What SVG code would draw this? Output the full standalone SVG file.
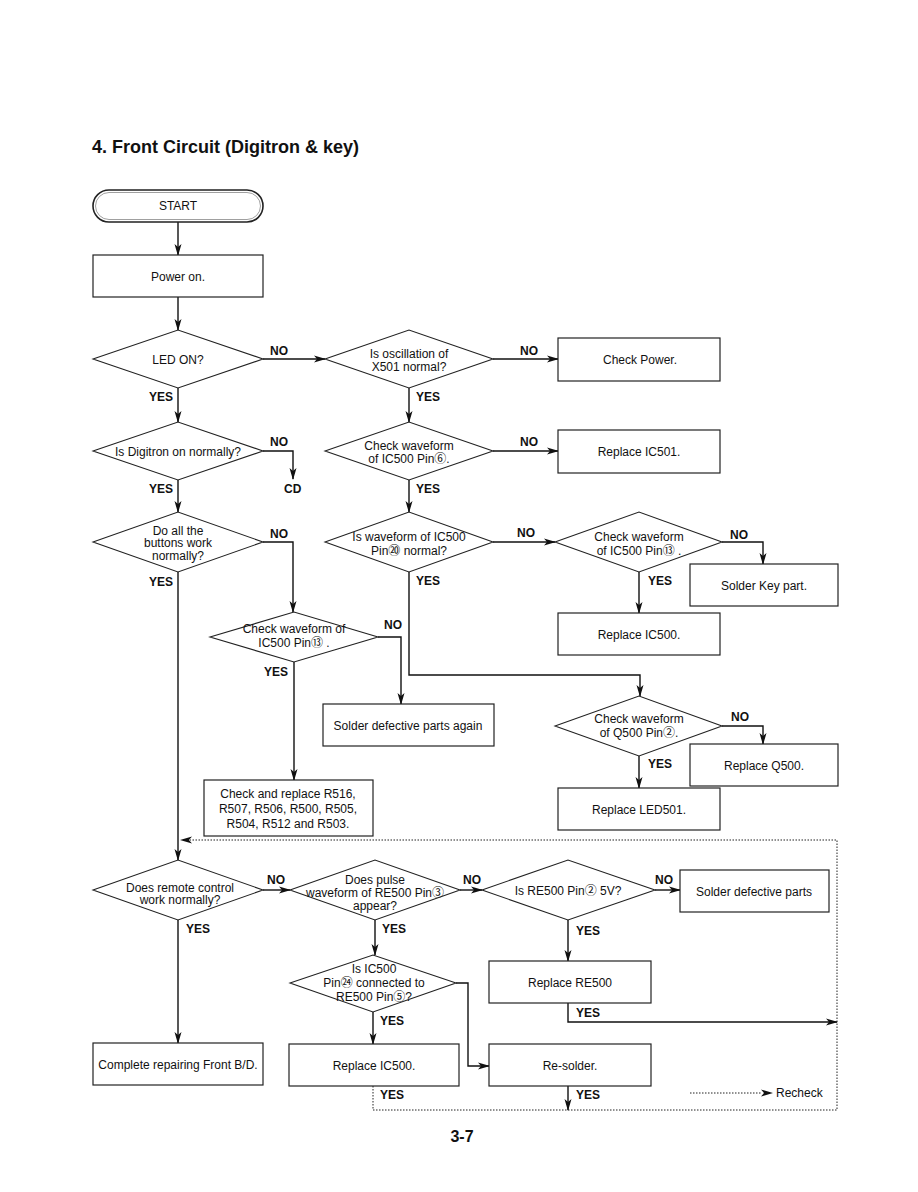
<svg xmlns="http://www.w3.org/2000/svg" width="918" height="1192" viewBox="0 0 918 1192">
<defs>
<marker id="ah" markerWidth="12" markerHeight="8" refX="11" refY="4" orient="auto" markerUnits="userSpaceOnUse">
<path d="M0,0.5 L12,4 L0,7.5 L3,4 z" fill="#111"/>
</marker>
<style>
.bx{fill:#fff;stroke:#222;stroke-width:1.2}
.dm{fill:#fff;stroke:#222;stroke-width:1.1}
.t{font-family:"Liberation Sans",Arial,"Noto Sans CJK JP",sans-serif;font-size:12px;fill:#111;text-anchor:middle}
.l{font-family:"Liberation Sans",Arial,sans-serif;font-size:12px;font-weight:bold;fill:#111}
.ca{fill:none;stroke:#111;stroke-width:1.4;marker-end:url(#ah)}
.dt{fill:none;stroke:#222;stroke-width:1;stroke-dasharray:1.5,1.5}
</style>
</defs>
<rect width="918" height="1192" fill="#fff"/>
<text x="92" y="153" font-family="Liberation Sans,Arial,sans-serif" font-size="18" font-weight="bold" fill="#111">4. Front Circuit (Digitron &amp; key)</text>

<g id="connectors">
<path class="ca" d="M178,222 V255"/>
<path class="ca" d="M178,297 V330"/>
<path class="ca" d="M263,359 H325"/>
<path class="ca" d="M493,359 H558"/>
<path class="ca" d="M178,388 V422"/>
<path class="ca" d="M409,388 V422"/>
<path class="ca" d="M263,451 H293 V479"/>
<path class="ca" d="M493,451 H558"/>
<path class="ca" d="M178,480 V512"/>
<path class="ca" d="M409,480 V512"/>
<path class="ca" d="M263,542 H293 V612"/>
<path class="ca" d="M493,542 H555"/>
<path class="ca" d="M722,542 H763 V564"/>
<path class="ca" d="M639,572 V613"/>
<path class="ca" d="M409,572 V675 H640 V696"/>
<path class="ca" d="M378,637 H401 V704"/>
<path class="ca" d="M294,662 V780"/>
<path class="ca" d="M722,726 H763 V744"/>
<path class="ca" d="M639,756 V788"/>
<path class="ca" d="M178,572 V860"/>
<path class="ca" d="M263,890 H290"/>
<path class="ca" d="M460,890 H482"/>
<path class="ca" d="M655,890 H680"/>
<path class="ca" d="M178,920 V1043"/>
<path class="ca" d="M375,920 V955"/>
<path class="ca" d="M568,920 V961"/>
<path class="ca" d="M456,983 H468 V1066 H489"/>
<path class="ca" d="M373,1012 V1044"/>
<path class="ca" d="M568,1003 V1022 H837"/>
<path class="ca" d="M568,1086 V1110"/>
<path class="dt" d="M373,1086 V1110 H837 V840 H190"/>
<path d="M180,840 L192,836.5 L189,840 L192,843.5 z" fill="#111"/>
<path class="dt" d="M690,1093 H762"/>
<path d="M773,1093 L761,1089.5 L764,1093 L761,1096.5 z" fill="#111"/>
<text class="l" x="149" y="401">YES</text>
<text class="l" x="270" y="355">NO</text>
<text class="l" x="416" y="401">YES</text>
<text class="l" x="520" y="355">NO</text>
<text class="l" x="149" y="493">YES</text>
<text class="l" x="270" y="446">NO</text>
<text class="l" x="284" y="493">CD</text>
<text class="l" x="416" y="493">YES</text>
<text class="l" x="520" y="446">NO</text>
<text class="l" x="149" y="586">YES</text>
<text class="l" x="270" y="538">NO</text>
<text class="l" x="416" y="585">YES</text>
<text class="l" x="517" y="537">NO</text>
<text class="l" x="730" y="539">NO</text>
<text class="l" x="648" y="585">YES</text>
<text class="l" x="384" y="629">NO</text>
<text class="l" x="264" y="676">YES</text>
<text class="l" x="731" y="721">NO</text>
<text class="l" x="648" y="768">YES</text>
<text class="l" x="267" y="884">NO</text>
<text class="l" x="186" y="933">YES</text>
<text class="l" x="463" y="884">NO</text>
<text class="l" x="382" y="933">YES</text>
<text class="l" x="655" y="884">NO</text>
<text class="l" x="576" y="935">YES</text>
<text class="l" x="380" y="1025">YES</text>
<text class="l" x="576" y="1017">YES</text>
<text class="l" x="380" y="1099">YES</text>
<text class="l" x="576" y="1099">YES</text>
<text class="t" x="776" y="1097" style="text-anchor:start">Recheck</text>
</g>

<g id="start">
<rect x="93" y="190" width="170" height="32" rx="16" fill="#fff" stroke="#222" stroke-width="1.6"/>
<rect x="95.5" y="192.5" width="165" height="27" rx="13.5" fill="none" stroke="#888" stroke-width="0.8"/>
<text class="t" x="178" y="210">START</text>
</g>
<g id="power-on"><rect class="bx" x="93" y="255" width="170" height="42"/><text class="t" x="178" y="281">Power on.</text></g>
<g id="led-on"><polygon class="dm" points="93,359 178,330 263,359 178,388"/><text class="t" x="178" y="364">LED ON?</text></g>
<g id="oscillation"><polygon class="dm" points="325,359 409,330 493,359 409,388"/><text class="t" x="409" y="358">Is oscillation of</text><text class="t" x="409" y="371">X501 normal?</text></g>
<g id="check-power"><rect class="bx" x="558" y="338" width="162" height="43"/><text class="t" x="640" y="364">Check Power.</text></g>
<g id="digitron"><polygon class="dm" points="93,451 178,422 263,451 178,480"/><text class="t" x="178" y="456">Is Digitron on normally?</text></g>
<g id="pin6"><polygon class="dm" points="325,451 409,422 493,451 409,480"/><text class="t" x="409" y="450">Check waveform</text><text class="t" x="409" y="463">of IC500 Pin⑥.</text></g>
<g id="replace-ic501"><rect class="bx" x="558" y="430" width="162" height="43"/><text class="t" x="639" y="456">Replace IC501.</text></g>
<g id="buttons"><polygon class="dm" points="93,542 178,512 263,542 178,572"/><text class="t" x="178" y="535">Do all the</text><text class="t" x="178" y="547">buttons work</text><text class="t" x="178" y="560">normally?</text></g>
<g id="pin20"><polygon class="dm" points="325,542 409,512 493,542 409,572"/><text class="t" x="409" y="541">Is waveform of IC500</text><text class="t" x="409" y="555">Pin⑳ normal?</text></g>
<g id="pin13a"><polygon class="dm" points="555,542 639,512 722,542 639,572"/><text class="t" x="639" y="541">Check waveform</text><text class="t" x="639" y="555">of IC500 Pin⑬ .</text></g>
<g id="solder-key"><rect class="bx" x="690" y="564" width="148" height="42"/><text class="t" x="764" y="590">Solder Key part.</text></g>
<g id="replace-ic500a"><rect class="bx" x="558" y="613" width="162" height="42"/><text class="t" x="639" y="639">Replace IC500.</text></g>
<g id="pin13b"><polygon class="dm" points="210,637 294,612 378,637 294,662"/><text class="t" x="294" y="633">Check waveform of</text><text class="t" x="294" y="647">IC500 Pin⑬ .</text></g>
<g id="solder-again"><rect class="bx" x="323" y="704" width="171" height="42"/><text class="t" x="408" y="730">Solder defective parts again</text></g>
<g id="check-replace"><rect class="bx" x="204" y="780" width="169" height="56"/><text class="t" x="288" y="798">Check and replace R516,</text><text class="t" x="288" y="813">R507, R506, R500, R505,</text><text class="t" x="288" y="828">R504, R512 and R503.</text></g>
<g id="q500"><polygon class="dm" points="555,726 639,696 722,726 639,756"/><text class="t" x="639" y="723">Check waveform</text><text class="t" x="639" y="737">of Q500 Pin②.</text></g>
<g id="replace-q500"><rect class="bx" x="690" y="744" width="148" height="42"/><text class="t" x="764" y="770">Replace Q500.</text></g>
<g id="replace-led501"><rect class="bx" x="558" y="788" width="162" height="42"/><text class="t" x="639" y="814">Replace LED501.</text></g>
<g id="remote"><polygon class="dm" points="93,890 178,860 263,890 178,920"/><text class="t" x="180" y="892">Does remote control</text><text class="t" x="180" y="904">work normally?</text></g>
<g id="pulse"><polygon class="dm" points="290,890 375,860 460,890 375,920"/><text class="t" x="375" y="884">Does pulse</text><text class="t" x="375" y="897">waveform of RE500 Pin③</text><text class="t" x="375" y="910">appear?</text></g>
<g id="re500-5v"><polygon class="dm" points="482,890 568,860 655,890 568,920"/><text class="t" x="568" y="895">Is RE500 Pin② 5V?</text></g>
<g id="solder-defective"><rect class="bx" x="680" y="870" width="149" height="42"/><text class="t" x="754" y="896">Solder defective parts</text></g>
<g id="pin24"><polygon class="dm" points="290,983 373,955 456,983 373,1012"/><text class="t" x="374" y="973">Is IC500</text><text class="t" x="374" y="987">Pin㉔ connected to</text><text class="t" x="374" y="1001">RE500 Pin⑤?</text></g>
<g id="replace-re500"><rect class="bx" x="489" y="961" width="162" height="42"/><text class="t" x="570" y="987">Replace RE500</text></g>
<g id="complete"><rect class="bx" x="93" y="1043" width="170" height="42"/><text class="t" x="178" y="1069">Complete repairing Front B/D.</text></g>
<g id="replace-ic500b"><rect class="bx" x="289" y="1044" width="170" height="42"/><text class="t" x="374" y="1070">Replace IC500.</text></g>
<g id="resolder"><rect class="bx" x="489" y="1044" width="162" height="42"/><text class="t" x="570" y="1070">Re-solder.</text></g>
<text x="462" y="1142" font-family="Liberation Sans,Arial,sans-serif" font-size="16" font-weight="bold" fill="#111" text-anchor="middle">3-7</text>
</svg>
